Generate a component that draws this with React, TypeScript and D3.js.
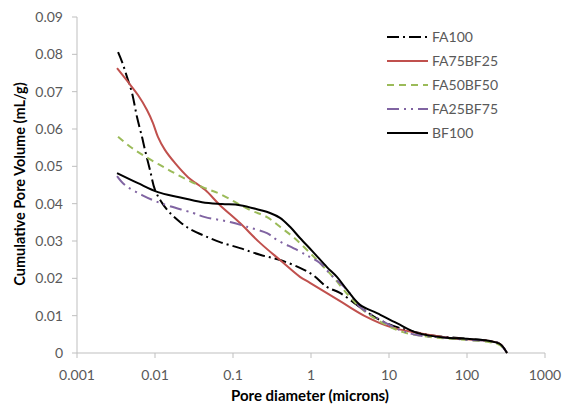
import React from "react";
import * as d3 from "d3";

const xTicks = [0.001, 0.01, 0.1, 1, 10, 100, 1000];
const xTickLabels = ["0.001", "0.01", "0.1", "1", "10", "100", "1000"];
const yTicks = [0, 0.01, 0.02, 0.03, 0.04, 0.05, 0.06, 0.07, 0.08, 0.09];
const yTickLabels = ["0", "0.01", "0.02", "0.03", "0.04", "0.05", "0.06", "0.07", "0.08", "0.09"];

const seriesNames = ["FA100", "FA75BF25", "FA50BF50", "FA25BF75", "BF100"];

const fa100D = [0.00336, 0.00378, 0.00438, 0.00507, 0.00588, 0.00681, 0.00744, 0.00863, 0.01, 0.0123, 0.0156, 0.0209, 0.0281, 0.0464, 0.0681, 0.123, 0.222, 0.401, 0.722, 1.06, 1.6, 2.35, 4.25, 7.67, 13.8, 33.6, 100, 197, 265, 326];
const fa100V = [0.0806, 0.078, 0.0739, 0.0697, 0.0632, 0.0579, 0.0544, 0.049, 0.0437, 0.0402, 0.0375, 0.0351, 0.0332, 0.0311, 0.0297, 0.0281, 0.0263, 0.0249, 0.0228, 0.0209, 0.0177, 0.0161, 0.0123, 0.0088, 0.0067, 0.0048, 0.0038, 0.0032, 0.0024, 0];

const fa75D = [0.00326, 0.00451, 0.00605, 0.00789, 0.00942, 0.0109, 0.0134, 0.018, 0.0265, 0.0438, 0.0681, 0.123, 0.222, 0.401, 0.722, 0.97, 2.57, 5.22, 10.3, 22.9, 60.5, 197, 265, 326];
const fa75V = [0.0763, 0.0726, 0.0691, 0.0651, 0.0616, 0.0579, 0.0544, 0.0509, 0.0471, 0.0437, 0.0396, 0.0348, 0.0295, 0.0249, 0.0204, 0.0188, 0.0134, 0.0096, 0.007, 0.0054, 0.004, 0.0032, 0.0024, 0];

const fa50D = [0.00336, 0.00507, 0.00813, 0.0134, 0.0222, 0.0401, 0.0681, 0.165, 0.273, 0.401, 0.588, 0.889, 1.3, 1.91, 3.16, 4.64, 8.37, 15.1, 33.6, 100, 197, 265, 326];
const fa50V = [0.0579, 0.0549, 0.0522, 0.0496, 0.0471, 0.0445, 0.0426, 0.0383, 0.0364, 0.0338, 0.0311, 0.0276, 0.0241, 0.0204, 0.015, 0.0115, 0.008, 0.0056, 0.0043, 0.0035, 0.0029, 0.0021, 0];

const fa25D = [0.00326, 0.00412, 0.00681, 0.0116, 0.0307, 0.0438, 0.0916, 0.151, 0.273, 0.366, 0.662, 0.97, 1.3, 1.91, 2.9, 4.25, 7.01, 13.8, 22.9, 60.5, 100, 197, 265, 326];
const fa25V = [0.0474, 0.045, 0.0423, 0.0402, 0.0375, 0.0364, 0.0351, 0.0338, 0.0321, 0.0303, 0.0276, 0.0257, 0.0241, 0.0204, 0.0169, 0.0123, 0.0094, 0.0062, 0.0048, 0.004, 0.0035, 0.0032, 0.0024, 0];

const bf100D = [0.00326, 0.00605, 0.0109, 0.0197, 0.0401, 0.0723, 0.123, 0.222, 0.298, 0.401, 0.538, 0.722, 1.06, 1.6, 2.15, 2.9, 4.25, 7.01, 12.6, 22.9, 60.5, 100, 197, 265, 326];
const bf100V = [0.0482, 0.0455, 0.0431, 0.0418, 0.0404, 0.0399, 0.0396, 0.0383, 0.0375, 0.0362, 0.0338, 0.0308, 0.0271, 0.023, 0.0204, 0.0169, 0.0129, 0.0107, 0.008, 0.0054, 0.004, 0.0038, 0.0032, 0.0024, 0];

const seriesD = [fa100D, fa75D, fa50D, fa25D, bf100D];
const seriesV = [fa100V, fa75V, fa50V, fa25V, bf100V];
const colors = ["#000000", "#c0504d", "#9bbb59", "#8064a2", "#000000"];
const dashes = ["12,4,2,4", "", "7,5", "12,5,2,5,2,5", ""];

const W = 567;
const H = 407;
const M = { left: 77, right: 545, top: 17, bottom: 353 };
const FONT = "Lato, 'Open Sans', sans-serif";

export default function App() {
  const x = d3.scaleLog().domain([0.001, 1000]).range([M.left, M.right]);
  const y = d3.scaleLinear().domain([0, 0.09]).range([M.bottom, M.top]);
  const line = d3
    .line<[number, number]>()
    .x((d) => x(d[0]))
    .y((d) => y(d[1]))
    .curve(d3.curveCatmullRom.alpha(0.5));

  const axisColor = "#bfbfbf";
  const textColor = "#595959";

  return (
    <svg
      width={W}
      height={H}
      style={{ position: "absolute", left: 0, top: 0, background: "#fff" }}
      fontFamily={FONT}
    >
      <rect x={0} y={0} width={W} height={H} fill="#fff" />
      <line x1={M.left} x2={M.left} y1={M.top} y2={M.bottom} stroke={axisColor} strokeWidth={1} />
      <line x1={M.left} x2={M.right} y1={M.bottom} y2={M.bottom} stroke={axisColor} strokeWidth={1} />
      {yTicks.map((t, i) => (
        <g key={"y" + i}>
          <line x1={M.left - 5} x2={M.left} y1={y(t)} y2={y(t)} stroke={axisColor} />
          <text x={63} y={y(t)} dy="0.35em" textAnchor="end" fontSize={14} fill={textColor}>
            {yTickLabels[i]}
          </text>
        </g>
      ))}
      {xTicks.map((t, i) => (
        <g key={"x" + i}>
          <line x1={x(t)} x2={x(t)} y1={M.bottom} y2={M.bottom + 5} stroke={axisColor} />
          <text x={x(t)} y={380} textAnchor="middle" fontSize={14} fill={textColor}>
            {xTickLabels[i]}
          </text>
        </g>
      ))}
      <text x={310} y={401} textAnchor="middle" fontSize={15} fontWeight="bold" fill="#000">
        Pore diameter (microns)
      </text>
      <text
        transform={`translate(25,184) rotate(-90)`}
        textAnchor="middle"
        fontSize={14.5}
        fontWeight="bold"
        fill="#000"
      >
        Cumulative Pore Volume (mL/g)
      </text>
      {seriesNames.map((name, i) => {
        const pts = seriesD[i].map((d, j) => [d, seriesV[i][j]] as [number, number]);
        return (
          <path
            key={name}
            d={line(pts) || ""}
            fill="none"
            stroke={colors[i]}
            strokeWidth={2}
            strokeDasharray={dashes[i] || undefined}
          />
        );
      })}
      {seriesNames.map((name, i) => {
        const ly = 37 + i * 24;
        return (
          <g key={"l" + name}>
            <line
              x1={387}
              x2={428}
              y1={ly}
              y2={ly}
              stroke={colors[i]}
              strokeWidth={2}
              strokeDasharray={dashes[i] || undefined}
            />
            <text x={432} y={ly} dy="0.35em" fontSize={14} fill={textColor}>
              {name}
            </text>
          </g>
        );
      })}
    </svg>
  );
}
